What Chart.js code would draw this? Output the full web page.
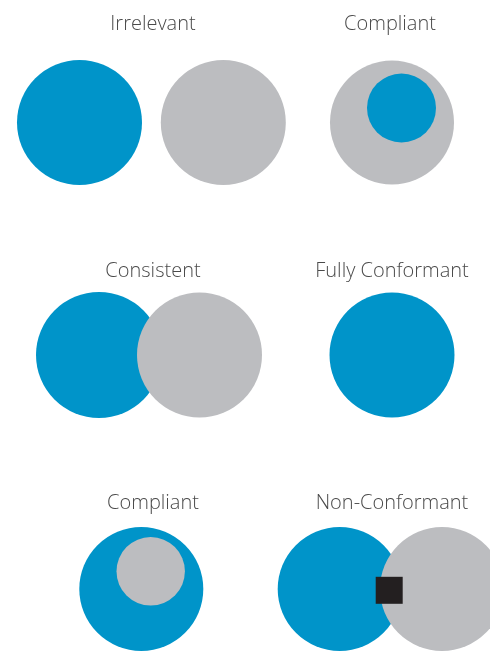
<!DOCTYPE html>
<html>
<head>
<meta charset="utf-8">
<script src="https://cdn.jsdelivr.net/npm/chart.js@4"></script>
<style>
  html, body { margin: 0; padding: 0; background: #fff; }
  #wrap { position: relative; width: 490px; height: 652px; overflow: hidden; }
  #venn { position: absolute; left: 0; top: 0; }
  .panel-title {
    position: absolute;
    font-family: "Open Sans", "Noto Sans", sans-serif;
    font-weight: 300;
    font-size: 20px;
    line-height: 20px;
    color: #4a4a4a;
    white-space: nowrap;
    transform: translateX(-50%);
  }
</style>
</head>
<body>
<div id="wrap">
  <canvas id="venn" width="490" height="652"></canvas>
</div>
<script>
// Panel titles and where they sit (x centre, text baseline) in chart units
const titles = ['Irrelevant', 'Compliant', 'Consistent', 'Fully Conformant', 'Compliant', 'Non-Conformant'];
const titleX = [153, 390, 153, 392, 153, 392];
const titleY = [30.7, 30.7, 277.3, 277.3, 510, 510];

// Circles as [x, y, radius]
const blueCircles = [
  [79.5, 122.5, 62.5],   // Irrelevant
  [401.5, 108, 34.5],    // Compliant (inner)
  [99, 355, 63],         // Consistent
  [392, 355, 62.5],      // Fully Conformant
  [141.3, 589, 62],      // Compliant (outer)
  [339.7, 589, 62]       // Non-Conformant
];
const grayBackCircles = [
  [392, 122.5, 62]       // Compliant (outer)
];
const grayFrontCircles = [
  [223.3, 122.5, 62.5],  // Irrelevant
  [199.5, 355, 62.5],    // Consistent
  [150.7, 571.3, 34.2],  // Compliant (inner)
  [442, 589, 62]         // Non-Conformant
];
// conflict marker: [x, y, half side]
const markers = [[389.2, 590.3, 13.5]];

const BLUE = '#0094c9';
const GRAY = '#bcbdc0';

function toPoints(list) {
  return list.map(c => ({ x: c[0], y: c[1], r: c[2] }));
}

document.addEventListener('DOMContentLoaded', function () {
  const ctx = document.getElementById('venn');

  const chart = new Chart(ctx, {
    type: 'bubble',
    data: {
      datasets: [
        {
          label: 'marker',
          data: markers.map(m => ({ x: m[0], y: m[1], r: m[2] / Math.SQRT1_2 })),
          backgroundColor: '#231f20',
          borderWidth: 0,
          pointStyle: 'rect'
        },
        {
          label: 'gray front',
          data: toPoints(grayFrontCircles),
          backgroundColor: GRAY,
          borderWidth: 0
        },
        {
          label: 'blue',
          data: toPoints(blueCircles),
          backgroundColor: BLUE,
          borderWidth: 0
        },
        {
          label: 'gray back',
          data: toPoints(grayBackCircles),
          backgroundColor: GRAY,
          borderWidth: 0
        }
      ]
    },
    options: {
      responsive: false,
      animation: false,
      events: [],
      layout: { padding: 0, autoPadding: false },
      scales: {
        x: { type: 'linear', min: 0, max: 490, display: false },
        y: { type: 'linear', min: 0, max: 652, reverse: true, display: false }
      },
      plugins: {
        legend: { display: false },
        tooltip: { enabled: false }
      }
    }
  });

  // Place titles through the chart scales
  const wrap = document.getElementById('wrap');
  const baselineOffset = 20 * 0.888;
  titles.forEach((t, i) => {
    const el = document.createElement('div');
    el.className = 'panel-title';
    el.textContent = t;
    el.style.left = chart.scales.x.getPixelForValue(titleX[i]) + 'px';
    el.style.top = (chart.scales.y.getPixelForValue(titleY[i]) - baselineOffset) + 'px';
    wrap.appendChild(el);
  });
});
</script>
</body>
</html>
